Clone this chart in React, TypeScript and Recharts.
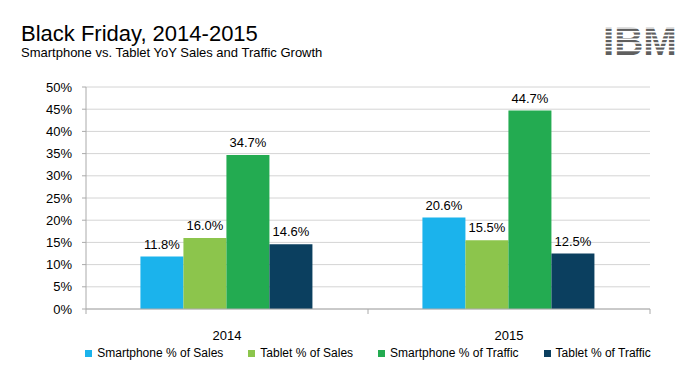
import React from 'react';
import { BarChart, Bar, XAxis, YAxis, CartesianGrid, LabelList } from 'recharts';

const categories = ['2014', '2015'];
const smartphoneSales = [11.8, 20.6];
const tabletSales = [16.0, 15.5];
const smartphoneTraffic = [34.7, 44.7];
const tabletTraffic = [14.6, 12.5];
const seriesKeys = ['smartphoneSales', 'tabletSales', 'smartphoneTraffic', 'tabletTraffic'];
const seriesNames = ['Smartphone % of Sales', 'Tablet % of Sales', 'Smartphone % of Traffic', 'Tablet % of Traffic'];
const seriesColors = ['#1bb3ec', '#8cc54c', '#23ab51', '#0b3f5f'];
const yTicks = [0, 5, 10, 15, 20, 25, 30, 35, 40, 45, 50];

const data = categories.map((c, i) => ({
  year: c,
  smartphoneSales: smartphoneSales[i],
  tabletSales: tabletSales[i],
  smartphoneTraffic: smartphoneTraffic[i],
  tabletTraffic: tabletTraffic[i],
}));

const W = 700;
const H = 368;
const XH = 30;
const M = { top: 87, right: 50, left: 0, bottom: 59 - XH };
const YW = 86;
const FONT = '"Liberation Sans", Arial, Helvetica, sans-serif';
const plotW = W - M.left - M.right - YW;
const half = plotW / categories.length / 2;

const XTick = (props: any) => {
  const { x, y, payload, index } = props;
  const last = index === categories.length - 1;
  return (
    <g>
      <line x1={x - half} x2={x - half} y1={y} y2={y + 5} stroke="#aaa" />
      {last && <line x1={x + half} x2={x + half} y1={y} y2={y + 5} stroke="#aaa" />}
      <text x={x} y={y + 31} textAnchor="middle" fontSize={13} fontFamily={FONT} fill="#000">
        {payload.value}
      </text>
    </g>
  );
};

const IBMLogo = () => {
  const stripes = [0, 1, 2, 3, 4, 5, 6];
  return (
    <g>
      <text x={603} y={55} fontSize={40} fontWeight={900} fontFamily={FONT} fill="#5f5f5f" textLength={74} lengthAdjust="spacingAndGlyphs">
        IBM
      </text>
      {stripes.map((i) => (
        <rect key={i} x={598} y={25 + i * 3.75 + 2.2} width={84} height={1.55} fill="#fff" />
      ))}
    </g>
  );
};

export default function App() {
  return (
    <div style={{ position: 'absolute', left: 0, top: 0, width: W, height: H, background: '#fff', fontFamily: FONT }}>
      <BarChart width={W} height={H} data={data} margin={M} barGap={0} barCategoryGap="19.3%">
        <CartesianGrid vertical={false} stroke="#d4d4d4" />
        <XAxis
          dataKey="year"
          axisLine={{ stroke: '#aaa' }}
          tickLine={false}
          tickSize={0}
          tickMargin={0}
          height={XH}
          tick={<XTick />}
          interval={0}
        />
        <YAxis
          width={YW}
          domain={[0, 50]}
          ticks={yTicks}
          interval={0}
          tickFormatter={(v: number) => `${v}%`}
          axisLine={{ stroke: '#aaa' }}
          tickLine={{ stroke: '#aaa' }}
          tickSize={4}
          tickMargin={10}
          tick={{ fontSize: 13, fill: '#000', fontFamily: FONT }}
        />
        {seriesKeys.map((k, i) => (
          <Bar key={k} dataKey={k} name={seriesNames[i]} fill={seriesColors[i]} isAnimationActive={false}>
            <LabelList
              dataKey={k}
              position="top"
              offset={8}
              formatter={(v: number) => `${v.toFixed(1)}%`}
              style={{ fontSize: 13, fill: '#000', fontFamily: FONT }}
            />
          </Bar>
        ))}
      </BarChart>
      <svg width={W} height={H} style={{ position: 'absolute', left: 0, top: 0, pointerEvents: 'none' }}>
        <text x={21} y={41} fontSize={22} fontFamily={FONT} fill="#000">Black Friday, 2014-2015</text>
        <text x={21} y={57} fontSize={13} fontFamily={FONT} fill="#000">Smartphone vs. Tablet YoY Sales and Traffic Growth</text>
        <IBMLogo />
      </svg>
      <div
        style={{
          position: 'absolute',
          left: YW - 60,
          width: plotW + 120,
          top: 346,
          display: 'flex',
          justifyContent: 'center',
          gap: 25,
          fontSize: 12,
          lineHeight: '14px',
          color: '#000',
          whiteSpace: 'nowrap',
        }}
      >
        {seriesNames.map((n, i) => (
          <div key={n} style={{ display: 'flex', alignItems: 'center', gap: 5, flexShrink: 0 }}>
            <span style={{ display: 'inline-block', width: 7, height: 7, background: seriesColors[i] }} />
            <span>{n}</span>
          </div>
        ))}
      </div>
    </div>
  );
}
